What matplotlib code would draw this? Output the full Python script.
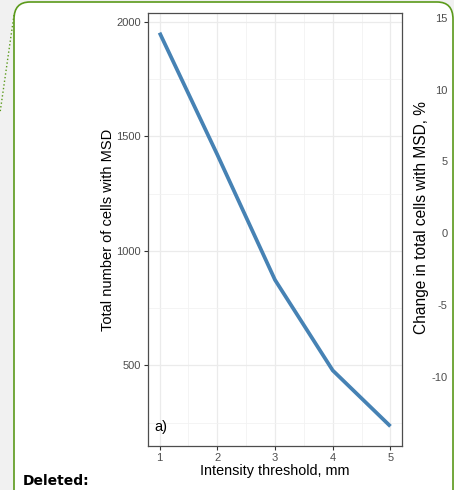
import matplotlib
matplotlib.use("Agg")
import matplotlib.pyplot as plt
from matplotlib.patches import FancyBboxPatch
from matplotlib.lines import Line2D

# data
thresholds = [1, 2, 3, 4, 5]
total_cells = [1952, 1420, 873, 478, 234]
x_ticks = [1, 2, 3, 4, 5]
y_ticks = [500, 1000, 1500, 2000]
pct_ticks = [-10, -5, 0, 5, 10, 15]
pct_base = 1077
pct_scale = 62.7

plt.rcParams['font.family'] = ['Liberation Sans', 'DejaVu Sans']
plt.rcParams['axes.unicode_minus'] = False

W, H = 454, 490
fig = plt.figure(figsize=(W / 100, H / 100), dpi=100)
fig.patch.set_facecolor('#f1f1f1')

# the green comment box of the page
box = FancyBboxPatch((14 / W, -20 / H), 439 / W, 488 / H + 20 / H,
                     boxstyle="round,pad=0,rounding_size=0.035",
                     transform=fig.transFigure, facecolor='white',
                     edgecolor='#5b9a1b', linewidth=1.2, zorder=-5)
fig.patches.append(box)
fig.lines.append(Line2D([14 / W, 0], [1 - 15 / H, 1 - 113 / H],
                        transform=fig.transFigure, color='#5b9a1b',
                        linestyle=':', linewidth=1, zorder=-4))
fig.text(23 / W, 1 - 481 / H, "Deleted:", fontsize=10, fontweight='bold',
         family=['DejaVu Sans'], va='center', ha='left')

left, right, top, bottom = 148, 402, 13, 446
ax = fig.add_axes([left / W, 1 - bottom / H, (right - left) / W, (bottom - top) / H])
ax.set_zorder(2)

ax.plot(thresholds, total_cells, color='#4682b4', linewidth=2.7,
        solid_capstyle='butt', zorder=3)

rx = max(thresholds) - min(thresholds)
ry = max(total_cells) - min(total_cells)
ax.set_xlim(min(thresholds) - 0.05 * rx, max(thresholds) + 0.05 * rx)
ax.set_ylim(min(total_cells) - 0.05 * ry, max(total_cells) + 0.05 * ry)

ax.set_xticks(x_ticks)
ax.set_yticks(y_ticks)
ax.set_xticks([1.5, 2.5, 3.5, 4.5], minor=True)
ax.set_yticks([250, 750, 1250, 1750], minor=True)
ax.grid(which='major', color='#ebebeb', linewidth=0.9)
ax.grid(which='minor', color='#f2f2f2', linewidth=0.6)
ax.set_axisbelow(True)
ax.tick_params(which='minor', length=0)
ax.tick_params(which='major', length=3, width=0.8, color='#333333',
               labelcolor='#4d4d4d', labelsize=8, pad=2)
for s in ax.spines.values():
    s.set_color('#4d4d4d')
    s.set_linewidth(0.9)

ax.set_xlabel("Intensity threshold, mm", fontsize=10.4, labelpad=1)
ax.set_ylabel("Total number of cells with MSD", fontsize=10.5, labelpad=1)
ax.text(0.914, 229, "a)", fontsize=10.5, ha='left', va='center')

sec = ax.secondary_yaxis('right', functions=(lambda v: (v - pct_base) / pct_scale,
                                             lambda p: p * pct_scale + pct_base))
sec.set_yticks(pct_ticks)
sec.spines['right'].set_visible(False)
sec.tick_params(length=0, pad=33, labelcolor='#4d4d4d', labelsize=8)
for lab in sec.get_yticklabels():
    lab.set_horizontalalignment('right')
sec.set_ylabel("Change in total cells with MSD, %", fontsize=11.2, rotation=90,
               va='center', ha='center')
sec.yaxis.set_label_coords(1.075, 0.527, transform=ax.transAxes)

fig.savefig("out.png", dpi=100, facecolor=fig.get_facecolor())
